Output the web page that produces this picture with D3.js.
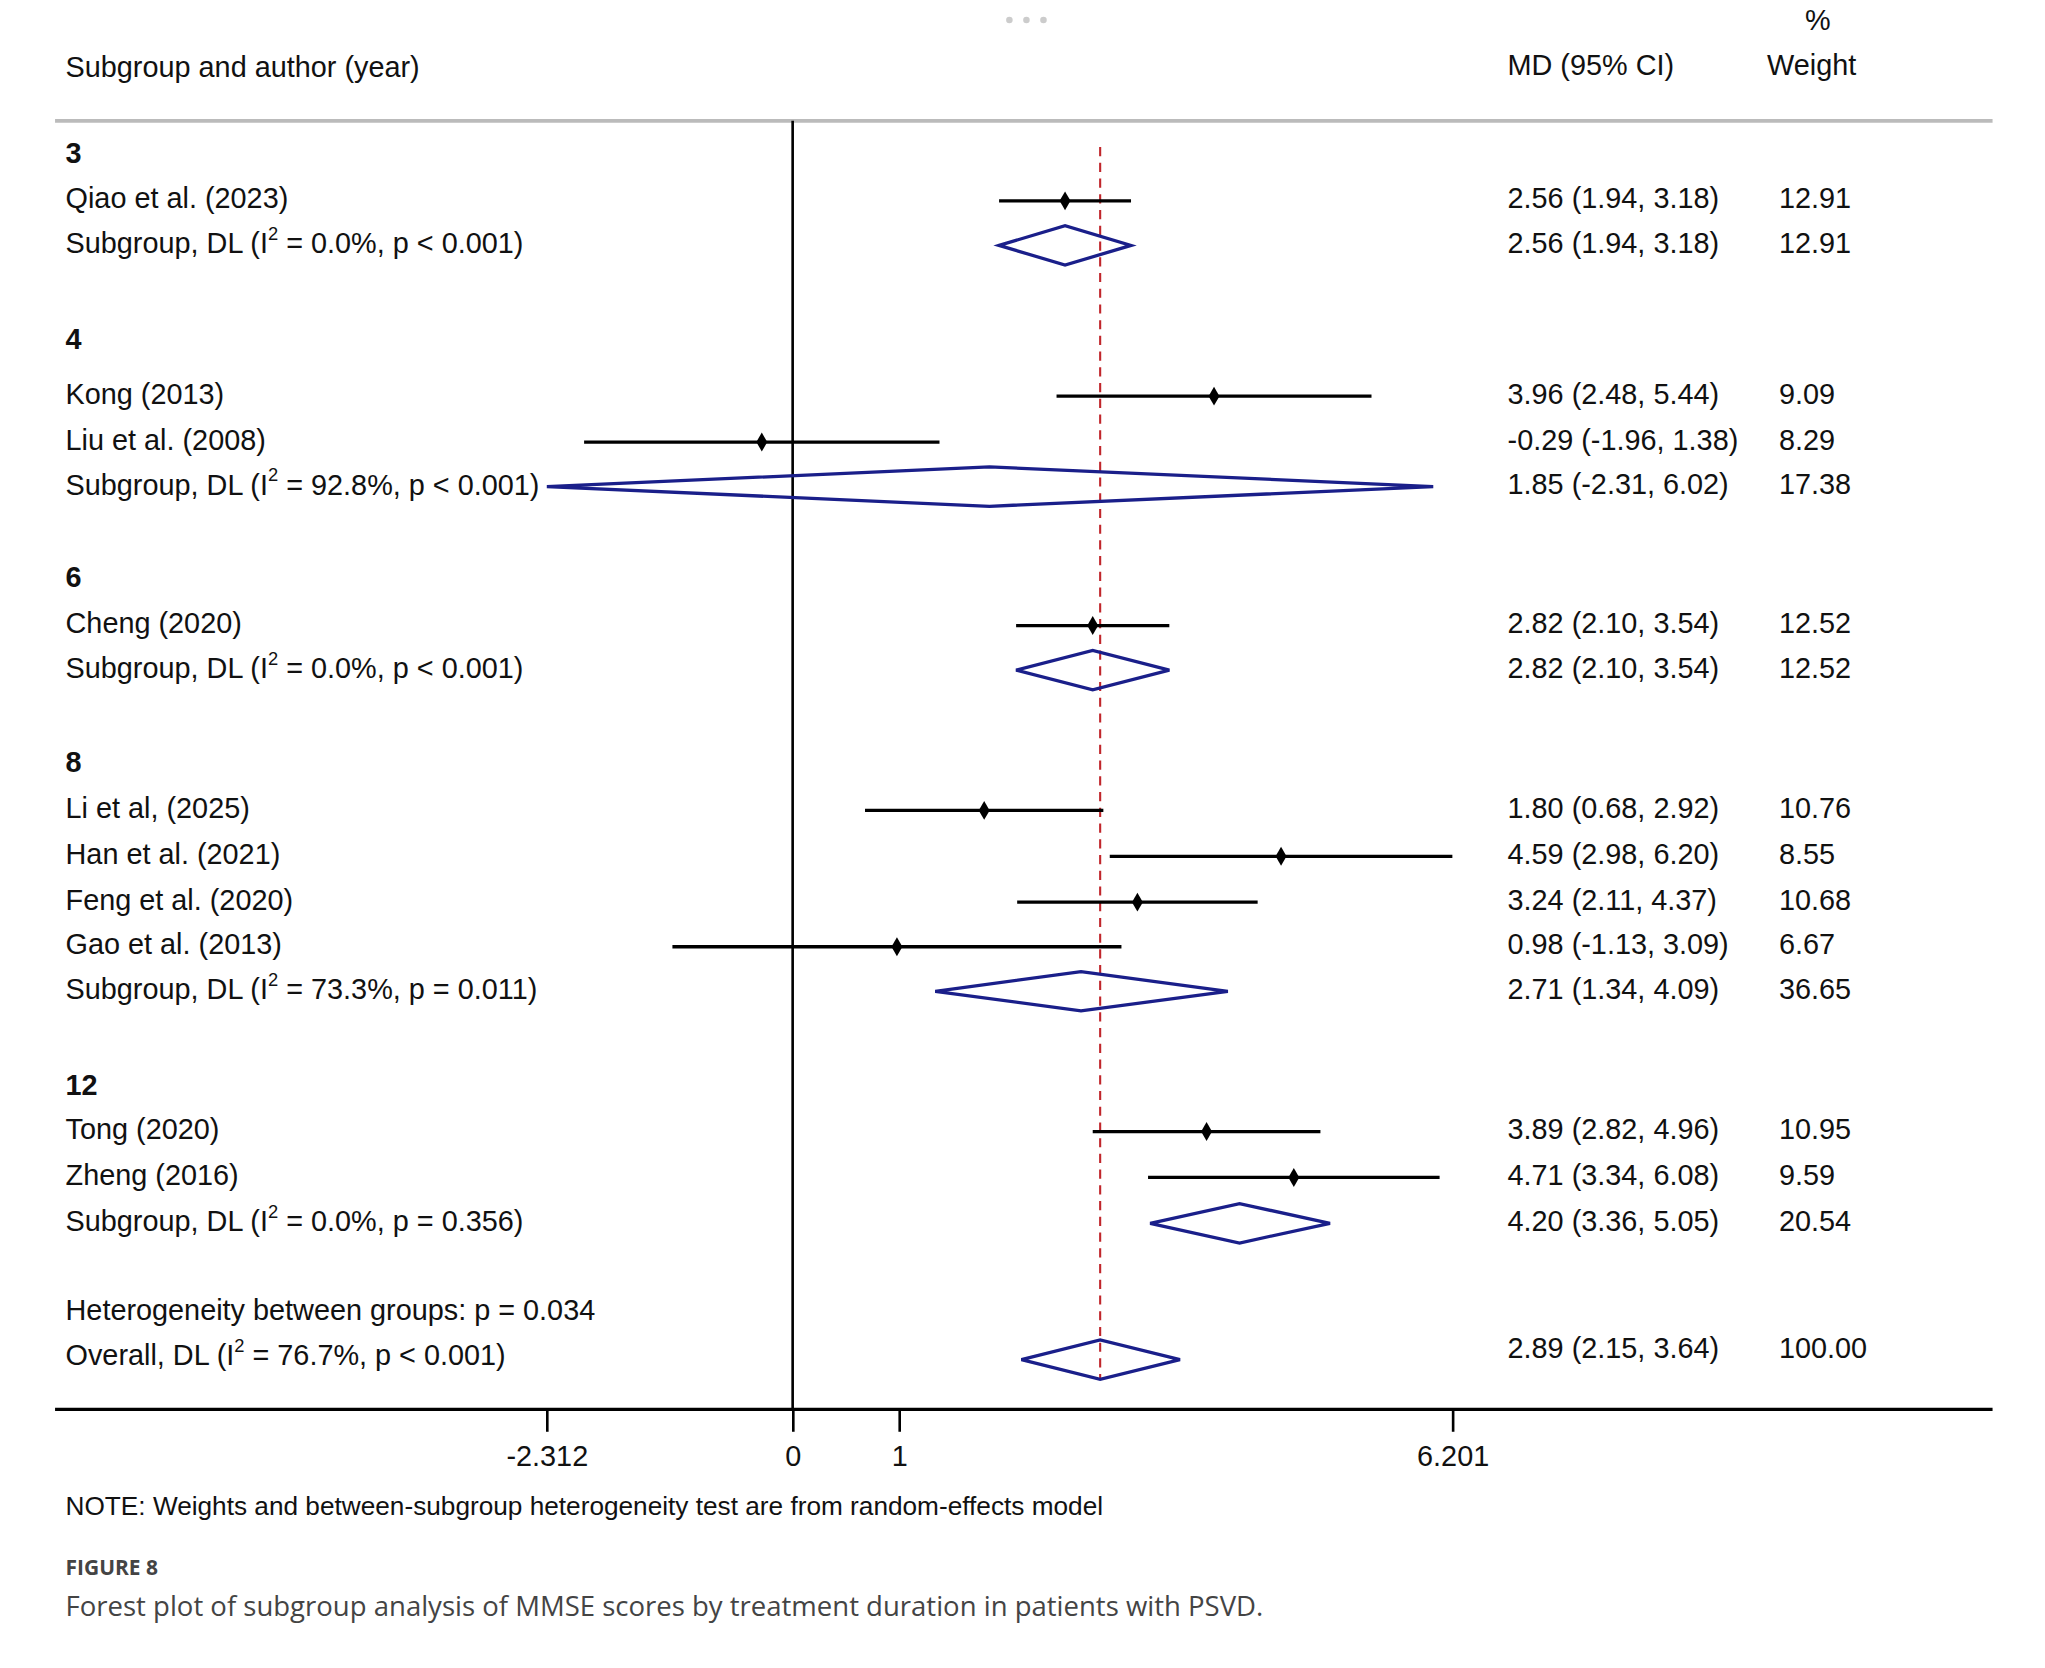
<!DOCTYPE html><html><head><meta charset="utf-8"><script src="https://cdn.jsdelivr.net/npm/d3@7"></script>
<style>body{margin:0;background:#fff}</style></head><body><svg id="c"></svg><script>
const labels=["3","Qiao et al. (2023)","SUB:0.0%, p < 0.001","4","Kong (2013)","Liu et al. (2008)","SUB:92.8%, p < 0.001","6","Cheng (2020)","SUB:0.0%, p < 0.001","8","Li et al, (2025)","Han et al. (2021)","Feng et al. (2020)","Gao et al. (2013)","SUB:73.3%, p = 0.011","12","Tong (2020)","Zheng (2016)","SUB:0.0%, p = 0.356"];
const rowY=[118,153,187,260,302,337,371,442,477,511,583,618,653,688,722,756,829,863,898,933];
const md=[null,2.56,2.56,null,3.96,-0.29,1.85,null,2.82,2.82,null,1.80,4.59,3.24,0.98,2.71,null,3.89,4.71,4.20];
const lo=[null,1.94,1.94,null,2.48,-1.96,-2.31,null,2.10,2.10,null,0.68,2.98,2.11,-1.13,1.34,null,2.82,3.34,3.36];
const hi=[null,3.18,3.18,null,5.44,1.38,6.02,null,3.54,3.54,null,2.92,6.20,4.37,3.09,4.09,null,4.96,6.08,5.05];
const weight=[null,"12.91","12.91",null,"9.09","8.29","17.38",null,"12.52","12.52",null,"10.76","8.55","10.68","6.67","36.65",null,"10.95","9.59","20.54"];
const overall={md:2.89,lo:2.15,hi:3.64,w:"100.00"};
const ticks=[-2.312,0,1,6.201];
const svg=d3.select("#c").attr("width",2045).attr("height",1668).attr("viewBox","0 0 1560 1272");
const F="Liberation Sans, Arial, sans-serif";
const x=d3.scaleLinear().domain([-2.312,6.201]).range([417,1108]);
const t=(X,Y,s,o={})=>svg.append("text").attr("x",X).attr("y",Y).attr("font-family",o.f||F).attr("font-size",o.fs||22).attr("fill",o.c||"#111").attr("font-weight",o.b?"bold":null).attr("dominant-baseline","middle").text(s);
[770,783,796].forEach(cx=>svg.append("circle").attr("cx",cx).attr("cy",15).attr("r",2.5).attr("fill","#ccc"));
t(50,53,"Subgroup and author (year)");t(1150,51,"MD (95% CI)");t(1377,17,"%");t(1348,51,"Weight");
svg.append("line").attr("x1",42).attr("x2",1520).attr("y1",92).attr("y2",92).attr("stroke","#bbb").attr("stroke-width",3);
svg.append("line").attr("x1",x(0)).attr("x2",x(0)).attr("y1",92).attr("y2",1075).attr("stroke","#000").attr("stroke-width",2);
svg.append("line").attr("x1",x(overall.md)).attr("x2",x(overall.md)).attr("y1",112).attr("y2",1052).attr("stroke","#c0262b").attr("stroke-width",1.6).attr("stroke-dasharray","7,5");
const fmt=v=>v.toFixed(2);
labels.forEach((l,i)=>{const y=rowY[i];
 if(md[i]===null){t(50,y,l,{b:true});return;}
 const ci=`${fmt(md[i])} (${fmt(lo[i])}, ${fmt(hi[i])})`;
 if(l.startsWith("SUB:")){const tx=t(50,y,"");tx.append("tspan").text("Subgroup, DL (I");tx.append("tspan").attr("font-size",14).attr("dy",-8).text("2");tx.append("tspan").attr("dy",8).text(" = "+l.slice(4)+")");
  const h=15;svg.append("polygon").attr("points",[[x(lo[i]),y],[x(md[i]),y-h],[x(hi[i]),y],[x(md[i]),y+h]].join(" ")).attr("fill","none").attr("stroke","#1a1f8a").attr("stroke-width",2.5);
 } else {t(50,y,l);
  svg.append("line").attr("x1",x(lo[i])).attr("x2",x(hi[i])).attr("y1",y).attr("y2",y).attr("stroke","#000").attr("stroke-width",2.5);
  svg.append("path").attr("d",d3.symbol(d3.symbolDiamond,60)()).attr("transform",`translate(${x(md[i])},${y})`).attr("fill","#000");}
 t(1150,y,ci);t(1357,y,weight[i]);
});
t(50,1001,"Heterogeneity between groups: p = 0.034");
{const tx=t(50,1035,"");tx.append("tspan").text("Overall, DL (I");tx.append("tspan").attr("font-size",14).attr("dy",-8).text("2");tx.append("tspan").attr("dy",8).text(" = 76.7%, p < 0.001)");}
svg.append("polygon").attr("points",[[x(overall.lo),1037],[x(overall.md),1022],[x(overall.hi),1037],[x(overall.md),1052]].join(" ")).attr("fill","none").attr("stroke","#1a1f8a").attr("stroke-width",2.5);
t(1150,1030,`${fmt(overall.md)} (${fmt(overall.lo)}, ${fmt(overall.hi)})`);t(1357,1030,overall.w);
svg.append("line").attr("x1",42).attr("x2",1520).attr("y1",1075).attr("y2",1075).attr("stroke","#000").attr("stroke-width",2.5);
const ax=svg.append("g").attr("transform","translate(0,1075)").call(d3.axisBottom(x).tickValues(ticks).tickSize(17).tickFormat(d=>String(d)));
ax.select(".domain").remove();ax.selectAll("line").attr("stroke","#000").attr("stroke-width",2);
ax.selectAll("text").attr("font-family",F).attr("font-size",22).attr("fill","#111").attr("dy","1.05em");
t(50,1150,"NOTE: Weights and between-subgroup heterogeneity test are from random-effects model",{fs:20});
t(50,1197,"FIGURE 8",{f:"Open Sans, sans-serif",fs:16,b:true,c:"#444"});
t(50,1227,"Forest plot of subgroup analysis of MMSE scores by treatment duration in patients with PSVD.",{f:"Open Sans, sans-serif",fs:21,c:"#444"});
</script></body></html>
